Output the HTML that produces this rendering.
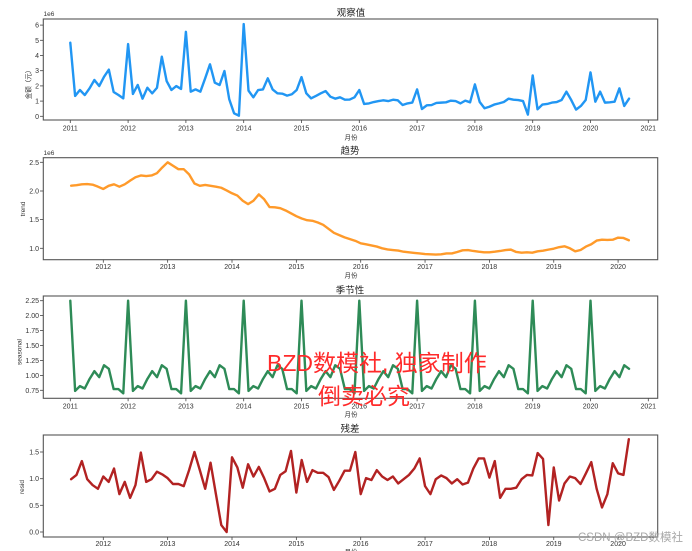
<!DOCTYPE html>
<html><head><meta charset="utf-8"><style>
html,body{margin:0;padding:0;background:#fff;}
svg{display:block;}
.t{font-family:"Liberation Sans","Noto Sans CJK SC",sans-serif;font-size:7px;fill:#333;}
.ti{font-family:"Liberation Sans","Noto Sans CJK SC",sans-serif;font-size:9.5px;fill:#222;}
.lb{font-family:"Liberation Sans","Noto Sans CJK SC",sans-serif;font-size:6.5px;fill:#333;}
.fr{fill:none;stroke:#555;stroke-width:1.1;}
.tk{stroke:#444;stroke-width:0.8;}
.ln{fill:none;stroke-width:2.4;stroke-linejoin:round;stroke-linecap:round;}
</style></head><body>
<svg width="692" height="551" viewBox="0 0 692 551" xmlns="http://www.w3.org/2000/svg">
<rect width="692" height="551" fill="#fff"/>

<!-- ===== Plot 1 : 观察值 ===== -->
<text class="ti" x="351" y="16" text-anchor="middle">观察值</text>
<text class="lb" x="43.5" y="16">1e6</text>
<rect class="fr" x="43.3" y="19" width="614.4" height="101"/>
<g class="tk">
<line x1="40" y1="116.3" x2="43.3" y2="116.3"/><line x1="40" y1="101.1" x2="43.3" y2="101.1"/><line x1="40" y1="85.9" x2="43.3" y2="85.9"/><line x1="40" y1="70.7" x2="43.3" y2="70.7"/><line x1="40" y1="55.5" x2="43.3" y2="55.5"/><line x1="40" y1="40.3" x2="43.3" y2="40.3"/><line x1="40" y1="25.1" x2="43.3" y2="25.1"/>
<line x1="70.3" y1="120" x2="70.3" y2="123"/><line x1="128.1" y1="120" x2="128.1" y2="123"/><line x1="185.9" y1="120" x2="185.9" y2="123"/><line x1="243.7" y1="120" x2="243.7" y2="123"/><line x1="301.5" y1="120" x2="301.5" y2="123"/><line x1="359.3" y1="120" x2="359.3" y2="123"/><line x1="417.1" y1="120" x2="417.1" y2="123"/><line x1="474.9" y1="120" x2="474.9" y2="123"/><line x1="532.7" y1="120" x2="532.7" y2="123"/><line x1="590.5" y1="120" x2="590.5" y2="123"/><line x1="648.3" y1="120" x2="648.3" y2="123"/>
</g>
<g class="t" text-anchor="end">
<text x="39" y="118.8">0</text><text x="39" y="103.6">1</text><text x="39" y="88.4">2</text><text x="39" y="73.2">3</text><text x="39" y="58">4</text><text x="39" y="42.8">5</text><text x="39" y="27.6">6</text>
</g>
<g class="t" text-anchor="middle">
<text x="70.3" y="130.5">2011</text><text x="128.1" y="130.5">2012</text><text x="185.9" y="130.5">2013</text><text x="243.7" y="130.5">2014</text><text x="301.5" y="130.5">2015</text><text x="359.3" y="130.5">2016</text><text x="417.1" y="130.5">2017</text><text x="474.9" y="130.5">2018</text><text x="532.7" y="130.5">2019</text><text x="590.5" y="130.5">2020</text><text x="648.3" y="130.5">2021</text>
</g>
<text class="lb" x="351" y="139.5" text-anchor="middle">月份</text>
<text class="lb" transform="translate(30.5,83) rotate(-90)" text-anchor="middle">金额（元）</text>
<polyline class="ln" stroke="#2196f3" vector-effect="non-scaling-stroke" transform="translate(70.3,116.3) scale(4.8167,-15.2)" points="0,4.84 1,1.34 2,1.73 3,1.40 4,1.84 5,2.39 6,1.99 7,2.6 8,3.07 9,1.6 10,1.40 11,1.18 12,4.75 13,1.47 14,2.06 15,1.16 16,1.88 17,1.51 18,1.88 19,3.92 20,2.32 21,1.73 22,1.99 23,1.80 24,5.56 25,1.62 26,1.77 27,1.62 28,2.5 29,3.42 30,2.21 31,2.06 32,2.98 33,1.12 34,0.2 35,0.04 36,6.07 37,1.69 38,1.25 39,1.73 40,1.77 41,2.5 42,1.77 43,1.51 44,1.49 45,1.36 46,1.45 47,1.73 48,2.58 49,1.51 50,1.18 51,1.34 52,1.51 53,1.66 54,1.29 55,1.16 56,1.25 57,1.09 58,1.1 59,1.25 60,1.73 61,0.81 62,0.85 63,0.94 64,1.0 65,1.05 66,1.0 67,1.09 68,1.05 69,0.74 70,0.85 71,0.9 72,1.77 73,0.48 74,0.72 75,0.74 76,0.88 77,0.9 78,0.92 79,1.03 80,1.0 81,0.85 82,1.03 83,0.92 84,2.1 85,0.94 86,0.53 87,0.63 88,0.77 89,0.85 90,0.94 91,1.16 92,1.09 93,1.07 94,1.0 95,0.11 96,2.69 97,0.46 98,0.77 99,0.81 100,0.9 101,0.94 102,1.07 103,1.62 104,1.07 105,0.44 106,0.68 107,1.07 108,2.89 109,0.96 110,1.62 111,0.9 112,0.92 113,0.96 114,1.84 115,0.68 116,1.16"/>

<!-- ===== Plot 2 : 趋势 ===== -->
<text class="ti" x="350" y="154" text-anchor="middle">趋势</text>
<text class="lb" x="43.5" y="155">1e6</text>
<rect class="fr" x="43.3" y="157.7" width="614.4" height="102"/>
<g class="tk">
<line x1="40" y1="162.3" x2="43.3" y2="162.3"/><line x1="40" y1="191" x2="43.3" y2="191"/><line x1="40" y1="219.6" x2="43.3" y2="219.6"/><line x1="40" y1="248.3" x2="43.3" y2="248.3"/>
<line x1="103.3" y1="259.7" x2="103.3" y2="262.7"/><line x1="167.65" y1="259.7" x2="167.65" y2="262.7"/><line x1="232" y1="259.7" x2="232" y2="262.7"/><line x1="296.35" y1="259.7" x2="296.35" y2="262.7"/><line x1="360.7" y1="259.7" x2="360.7" y2="262.7"/><line x1="425.05" y1="259.7" x2="425.05" y2="262.7"/><line x1="489.4" y1="259.7" x2="489.4" y2="262.7"/><line x1="553.75" y1="259.7" x2="553.75" y2="262.7"/><line x1="618.1" y1="259.7" x2="618.1" y2="262.7"/>
</g>
<g class="t" text-anchor="end">
<text x="39" y="164.8">2.5</text><text x="39" y="193.5">2.0</text><text x="39" y="222.1">1.5</text><text x="39" y="250.8">1.0</text>
</g>
<g class="t" text-anchor="middle">
<text x="103.3" y="269">2012</text><text x="167.65" y="269">2013</text><text x="232" y="269">2014</text><text x="296.35" y="269">2015</text><text x="360.7" y="269">2016</text><text x="425.05" y="269">2017</text><text x="489.4" y="269">2018</text><text x="553.75" y="269">2019</text><text x="618.1" y="269">2020</text>
</g>
<text class="lb" x="351" y="277.5" text-anchor="middle">月份</text>
<text class="lb" transform="translate(25,209) rotate(-90)" text-anchor="middle">trend</text>
<polyline class="ln" stroke="#ff9a2a" vector-effect="non-scaling-stroke" transform="translate(38.95,305.63) scale(5.3625,-57.33)" points="6,2.093 7,2.10 8,2.116 9,2.12 10,2.11 11,2.075 12,2.035 13,2.09 14,2.116 15,2.075 16,2.116 17,2.18 18,2.24 19,2.27 20,2.26 21,2.27 22,2.31 23,2.41 24,2.5 25,2.44 26,2.38 27,2.38 28,2.29 29,2.13 30,2.09 31,2.105 32,2.09 33,2.075 34,2.056 35,2.01 36,1.96 37,1.92 38,1.83 39,1.77 40,1.83 41,1.94 42,1.855 43,1.72 44,1.715 45,1.70 46,1.66 47,1.61 48,1.56 49,1.52 50,1.49 51,1.48 52,1.45 53,1.41 54,1.34 55,1.27 56,1.23 57,1.19 58,1.16 59,1.13 60,1.087 61,1.07 62,1.05 63,1.03 64,1.0 65,0.98 66,0.97 67,0.96 68,0.94 69,0.93 70,0.92 71,0.91 72,0.90 73,0.895 74,0.89 75,0.895 76,0.91 77,0.91 78,0.936 79,0.965 80,0.97 81,0.953 82,0.94 83,0.93 84,0.93 85,0.94 86,0.953 87,0.97 88,0.977 89,0.936 90,0.924 91,0.93 92,0.924 93,0.947 94,0.959 95,0.977 96,0.994 97,1.02 98,1.035 99,1.0 100,0.947 101,0.97 102,1.03 103,1.07 104,1.134 105,1.15 106,1.145 107,1.15 108,1.186 109,1.18 110,1.14"/>

<!-- ===== Plot 3 : 季节性 ===== -->
<text class="ti" x="350" y="293.5" text-anchor="middle">季节性</text>
<rect class="fr" x="43.3" y="296" width="614.4" height="102.3"/>
<g class="tk">
<line x1="40" y1="300.7" x2="43.3" y2="300.7"/><line x1="40" y1="315.6" x2="43.3" y2="315.6"/><line x1="40" y1="330.6" x2="43.3" y2="330.6"/><line x1="40" y1="345.5" x2="43.3" y2="345.5"/><line x1="40" y1="360.4" x2="43.3" y2="360.4"/><line x1="40" y1="375.4" x2="43.3" y2="375.4"/><line x1="40" y1="390.3" x2="43.3" y2="390.3"/>
<line x1="70.3" y1="398.3" x2="70.3" y2="401.3"/><line x1="128.1" y1="398.3" x2="128.1" y2="401.3"/><line x1="185.9" y1="398.3" x2="185.9" y2="401.3"/><line x1="243.7" y1="398.3" x2="243.7" y2="401.3"/><line x1="301.5" y1="398.3" x2="301.5" y2="401.3"/><line x1="359.3" y1="398.3" x2="359.3" y2="401.3"/><line x1="417.1" y1="398.3" x2="417.1" y2="401.3"/><line x1="474.9" y1="398.3" x2="474.9" y2="401.3"/><line x1="532.7" y1="398.3" x2="532.7" y2="401.3"/><line x1="590.5" y1="398.3" x2="590.5" y2="401.3"/><line x1="648.3" y1="398.3" x2="648.3" y2="401.3"/>
</g>
<g class="t" text-anchor="end">
<text x="39" y="303.2">2.25</text><text x="39" y="318.1">2.00</text><text x="39" y="333.1">1.75</text><text x="39" y="348">1.50</text><text x="39" y="362.9">1.25</text><text x="39" y="377.9">1.00</text><text x="39" y="392.8">0.75</text>
</g>
<g class="t" text-anchor="middle">
<text x="70.3" y="408.5">2011</text><text x="128.1" y="408.5">2012</text><text x="185.9" y="408.5">2013</text><text x="243.7" y="408.5">2014</text><text x="301.5" y="408.5">2015</text><text x="359.3" y="408.5">2016</text><text x="417.1" y="408.5">2017</text><text x="474.9" y="408.5">2018</text><text x="532.7" y="408.5">2019</text><text x="590.5" y="408.5">2020</text><text x="648.3" y="408.5">2021</text>
</g>
<text class="lb" x="351" y="416.5" text-anchor="middle">月份</text>
<text class="lb" transform="translate(21.5,352) rotate(-90)" text-anchor="middle">seasonal</text>
<polyline class="ln" stroke="#2e8b57" vector-effect="non-scaling-stroke" transform="translate(70.3,435.1) scale(4.8167,-59.73)" points="0,2.25 1,0.74 2,0.82 3,0.78 4,0.94 5,1.07 6,0.97 7,1.17 8,1.11 9,0.77 10,0.77 11,0.70 12,2.25 13,0.74 14,0.82 15,0.78 16,0.94 17,1.07 18,0.97 19,1.17 20,1.11 21,0.77 22,0.77 23,0.70 24,2.25 25,0.74 26,0.82 27,0.78 28,0.94 29,1.07 30,0.97 31,1.17 32,1.11 33,0.77 34,0.77 35,0.70 36,2.25 37,0.74 38,0.82 39,0.78 40,0.94 41,1.07 42,0.97 43,1.17 44,1.11 45,0.77 46,0.77 47,0.70 48,2.25 49,0.74 50,0.82 51,0.78 52,0.94 53,1.07 54,0.97 55,1.17 56,1.11 57,0.77 58,0.77 59,0.70 60,2.25 61,0.74 62,0.82 63,0.78 64,0.94 65,1.07 66,0.97 67,1.17 68,1.11 69,0.77 70,0.77 71,0.70 72,2.25 73,0.74 74,0.82 75,0.78 76,0.94 77,1.07 78,0.97 79,1.17 80,1.11 81,0.77 82,0.77 83,0.70 84,2.25 85,0.74 86,0.82 87,0.78 88,0.94 89,1.07 90,0.97 91,1.17 92,1.11 93,0.77 94,0.77 95,0.70 96,2.25 97,0.74 98,0.82 99,0.78 100,0.94 101,1.07 102,0.97 103,1.17 104,1.11 105,0.77 106,0.77 107,0.70 108,2.25 109,0.74 110,0.82 111,0.78 112,0.94 113,1.07 114,0.97 115,1.17 116,1.11"/>

<!-- ===== Plot 4 : 残差 ===== -->
<text class="ti" x="350" y="432" text-anchor="middle">残差</text>
<rect class="fr" x="43.3" y="435" width="614.4" height="102"/>
<g class="tk">
<line x1="40" y1="452" x2="43.3" y2="452"/><line x1="40" y1="478.7" x2="43.3" y2="478.7"/><line x1="40" y1="505.3" x2="43.3" y2="505.3"/><line x1="40" y1="532" x2="43.3" y2="532"/>
<line x1="103.3" y1="537" x2="103.3" y2="540"/><line x1="167.65" y1="537" x2="167.65" y2="540"/><line x1="232" y1="537" x2="232" y2="540"/><line x1="296.35" y1="537" x2="296.35" y2="540"/><line x1="360.7" y1="537" x2="360.7" y2="540"/><line x1="425.05" y1="537" x2="425.05" y2="540"/><line x1="489.4" y1="537" x2="489.4" y2="540"/><line x1="553.75" y1="537" x2="553.75" y2="540"/><line x1="618.1" y1="537" x2="618.1" y2="540"/>
</g>
<g class="t" text-anchor="end">
<text x="39" y="454.5">1.5</text><text x="39" y="481.2">1.0</text><text x="39" y="507.8">0.5</text><text x="39" y="534.5">0.0</text>
</g>
<g class="t" text-anchor="middle">
<text x="103.3" y="546">2012</text><text x="167.65" y="546">2013</text><text x="232" y="546">2014</text><text x="296.35" y="546">2015</text><text x="360.7" y="546">2016</text><text x="425.05" y="546">2017</text><text x="489.4" y="546">2018</text><text x="553.75" y="546">2019</text><text x="618.1" y="546">2020</text>
</g>
<text class="lb" x="351" y="554" text-anchor="middle">月份</text>
<text class="lb" transform="translate(24,487) rotate(-90)" text-anchor="middle">resid</text>
<polyline class="ln" stroke="#b22222" vector-effect="non-scaling-stroke" transform="translate(38.95,532) scale(5.3625,-53.33)" points="6,0.99 7,1.07 8,1.33 9,0.99 10,0.88 11,0.81 12,1.04 13,0.94 14,1.19 15,0.71 16,0.94 17,0.64 18,0.88 19,1.49 20,0.94 21,0.99 22,1.13 23,1.08 24,1.01 25,0.9 26,0.9 27,0.86 28,1.16 29,1.5 30,1.16 31,0.81 32,1.3 33,0.71 34,0.13 35,0.0 36,1.4 37,1.21 38,0.83 39,1.27 40,1.04 41,1.22 42,1.01 43,0.76 44,0.81 45,1.07 46,1.14 47,1.52 48,0.74 49,1.35 50,0.94 51,1.16 52,1.11 53,1.11 54,1.03 55,0.79 56,0.96 57,1.15 58,1.15 59,1.5 60,0.71 61,1.01 62,0.975 63,1.16 64,1.04 65,0.975 66,1.04 67,0.91 68,0.99 69,1.07 70,1.19 71,1.38 72,0.86 73,0.71 74,0.99 75,1.06 76,1.01 77,0.91 78,0.99 79,0.89 80,0.925 81,1.19 82,1.38 83,1.38 84,1.02 85,1.33 86,0.64 87,0.81 88,0.81 89,0.83 90,0.99 91,1.07 92,1.06 93,1.48 94,1.37 95,0.13 96,1.21 97,0.59 98,0.91 99,1.04 100,1.01 101,0.9 102,1.1 103,1.31 104,0.81 105,0.46 106,0.71 107,1.29 108,1.1 109,1.07 110,1.74"/>

<!-- ===== Watermarks ===== -->
<text x="267" y="371" style="font-family:'Liberation Sans','Noto Sans CJK SC',sans-serif;font-size:23px;fill:#ff2a2a;">BZD数模社, 独家制作</text>
<text x="318" y="404" style="font-family:'Liberation Sans','Noto Sans CJK SC',sans-serif;font-size:23px;fill:#ff2a2a;">倒卖必究</text>
<text x="578" y="541" style="font-family:'Liberation Sans','Noto Sans CJK SC',sans-serif;font-size:11.5px;fill:#a8a8a8;">CSDN @BZD数模社</text>
</svg>
</body></html>
